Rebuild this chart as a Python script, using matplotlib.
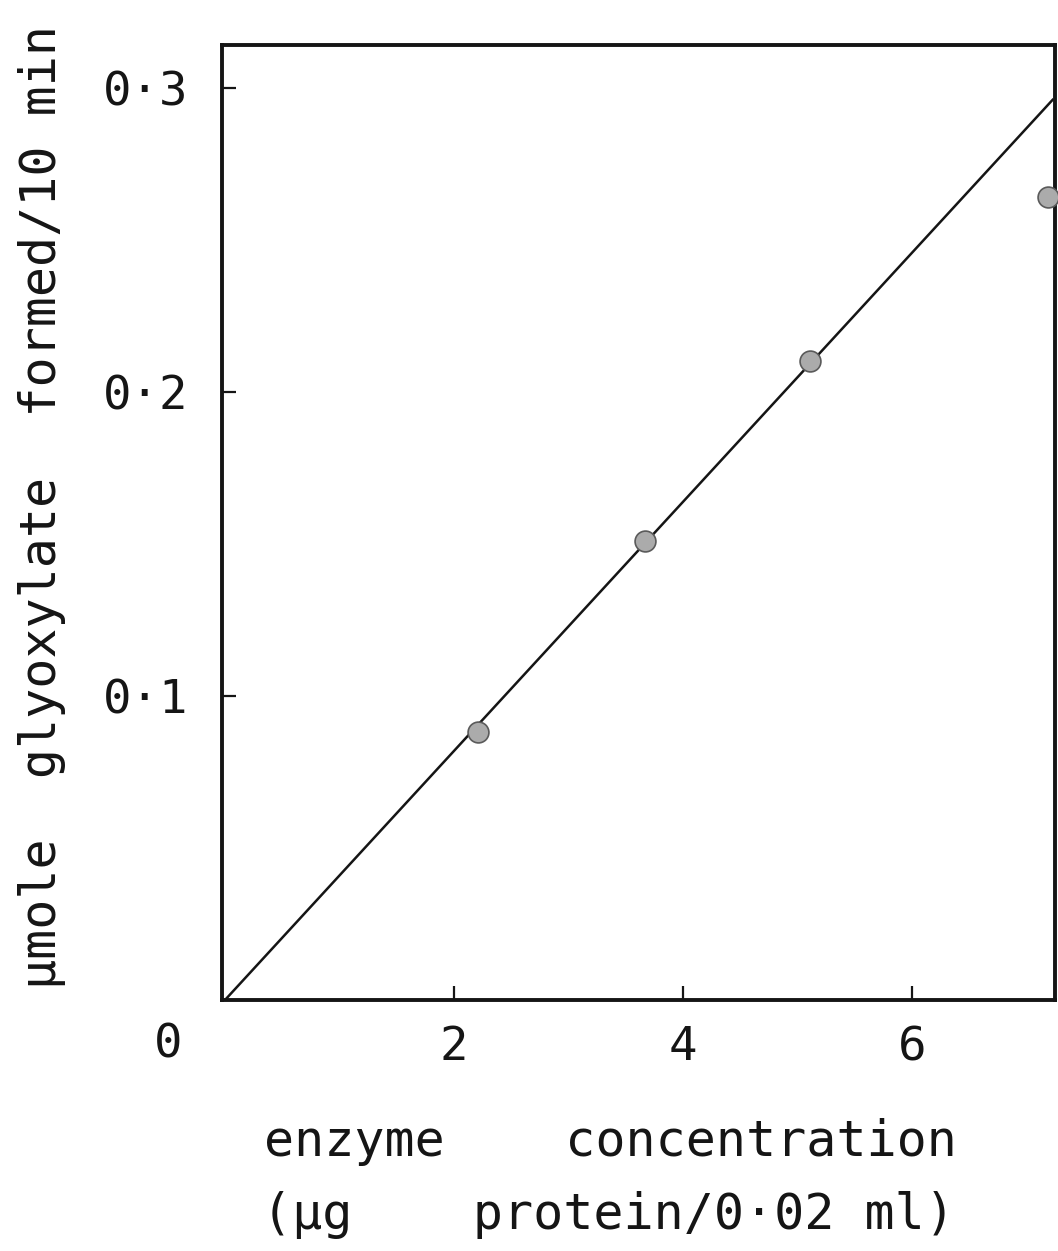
import numpy as np
import matplotlib.pyplot as plt

# lettering-style text: monospaced, evenly pitched glyphs
plt.rcParams['font.family'] = ['DejaVu Sans Mono', 'DejaVu Sans']

# measured points: enzyme (ug protein / 0.02 ml) vs glyoxylate formed (umole / 10 min)
enzyme = [2.21, 3.67, 5.11, 7.19]
glyoxylate = [0.088, 0.151, 0.210, 0.264]

# fitted straight line through the origin
line_x = [0.0, 7.23]
line_y = [0.0, 0.296]

xticks = [2, 4, 6]
xtick_labels = ['2', '4', '6']
yticks = [0.1, 0.2, 0.3]
ytick_labels = ['0·1', '0·2', '0·3']

ink = '#151515'

fig = plt.figure(figsize=(10.58, 12.51), dpi=100)
ax = fig.add_axes([0.2098, 0.2006, 0.7873, 0.7634])

ax.plot(line_x, line_y, color=ink, lw=1.8, zorder=2)
ax.plot(enzyme, glyoxylate, 'o', ms=15, mfc='#ababab', mec='#5a5a5a', mew=1.2,
        clip_on=False, zorder=3)

ax.set_xlim(-0.026, 7.25)
ax.set_ylim(0, 0.314)

ax.set_xticks(xticks)
ax.set_xticklabels(xtick_labels)
ax.set_yticks(yticks)
ax.set_yticklabels(ytick_labels)
ax.tick_params(direction='in', length=10, width=1.6, colors=ink, labelsize=34)
ax.tick_params(axis='x', pad=18)
ax.tick_params(axis='y', pad=24)

for side in ax.spines.values():
    side.set_linewidth(2.8)
    side.set_color(ink)

# origin label shared by both axes
fig.text(168 / 1058, 1 - 1045 / 1251, '0', fontsize=34, color=ink,
         ha='center', va='center')

fig.text(42 / 1058, 1 - 507 / 1251, 'µmole  glyoxylate  formed/10 min',
         rotation=90, fontsize=36, color=ink, ha='center', va='center')

fig.text(610 / 1058, 1 - 1142 / 1251, 'enzyme    concentration',
         fontsize=36, color=ink, ha='center', va='center')
fig.text(608 / 1058, 1 - 1215 / 1251, '(µg    protein/0·02 ml)',
         fontsize=36, color=ink, ha='center', va='center')

fig.savefig('out.png', dpi=100, facecolor='white')
